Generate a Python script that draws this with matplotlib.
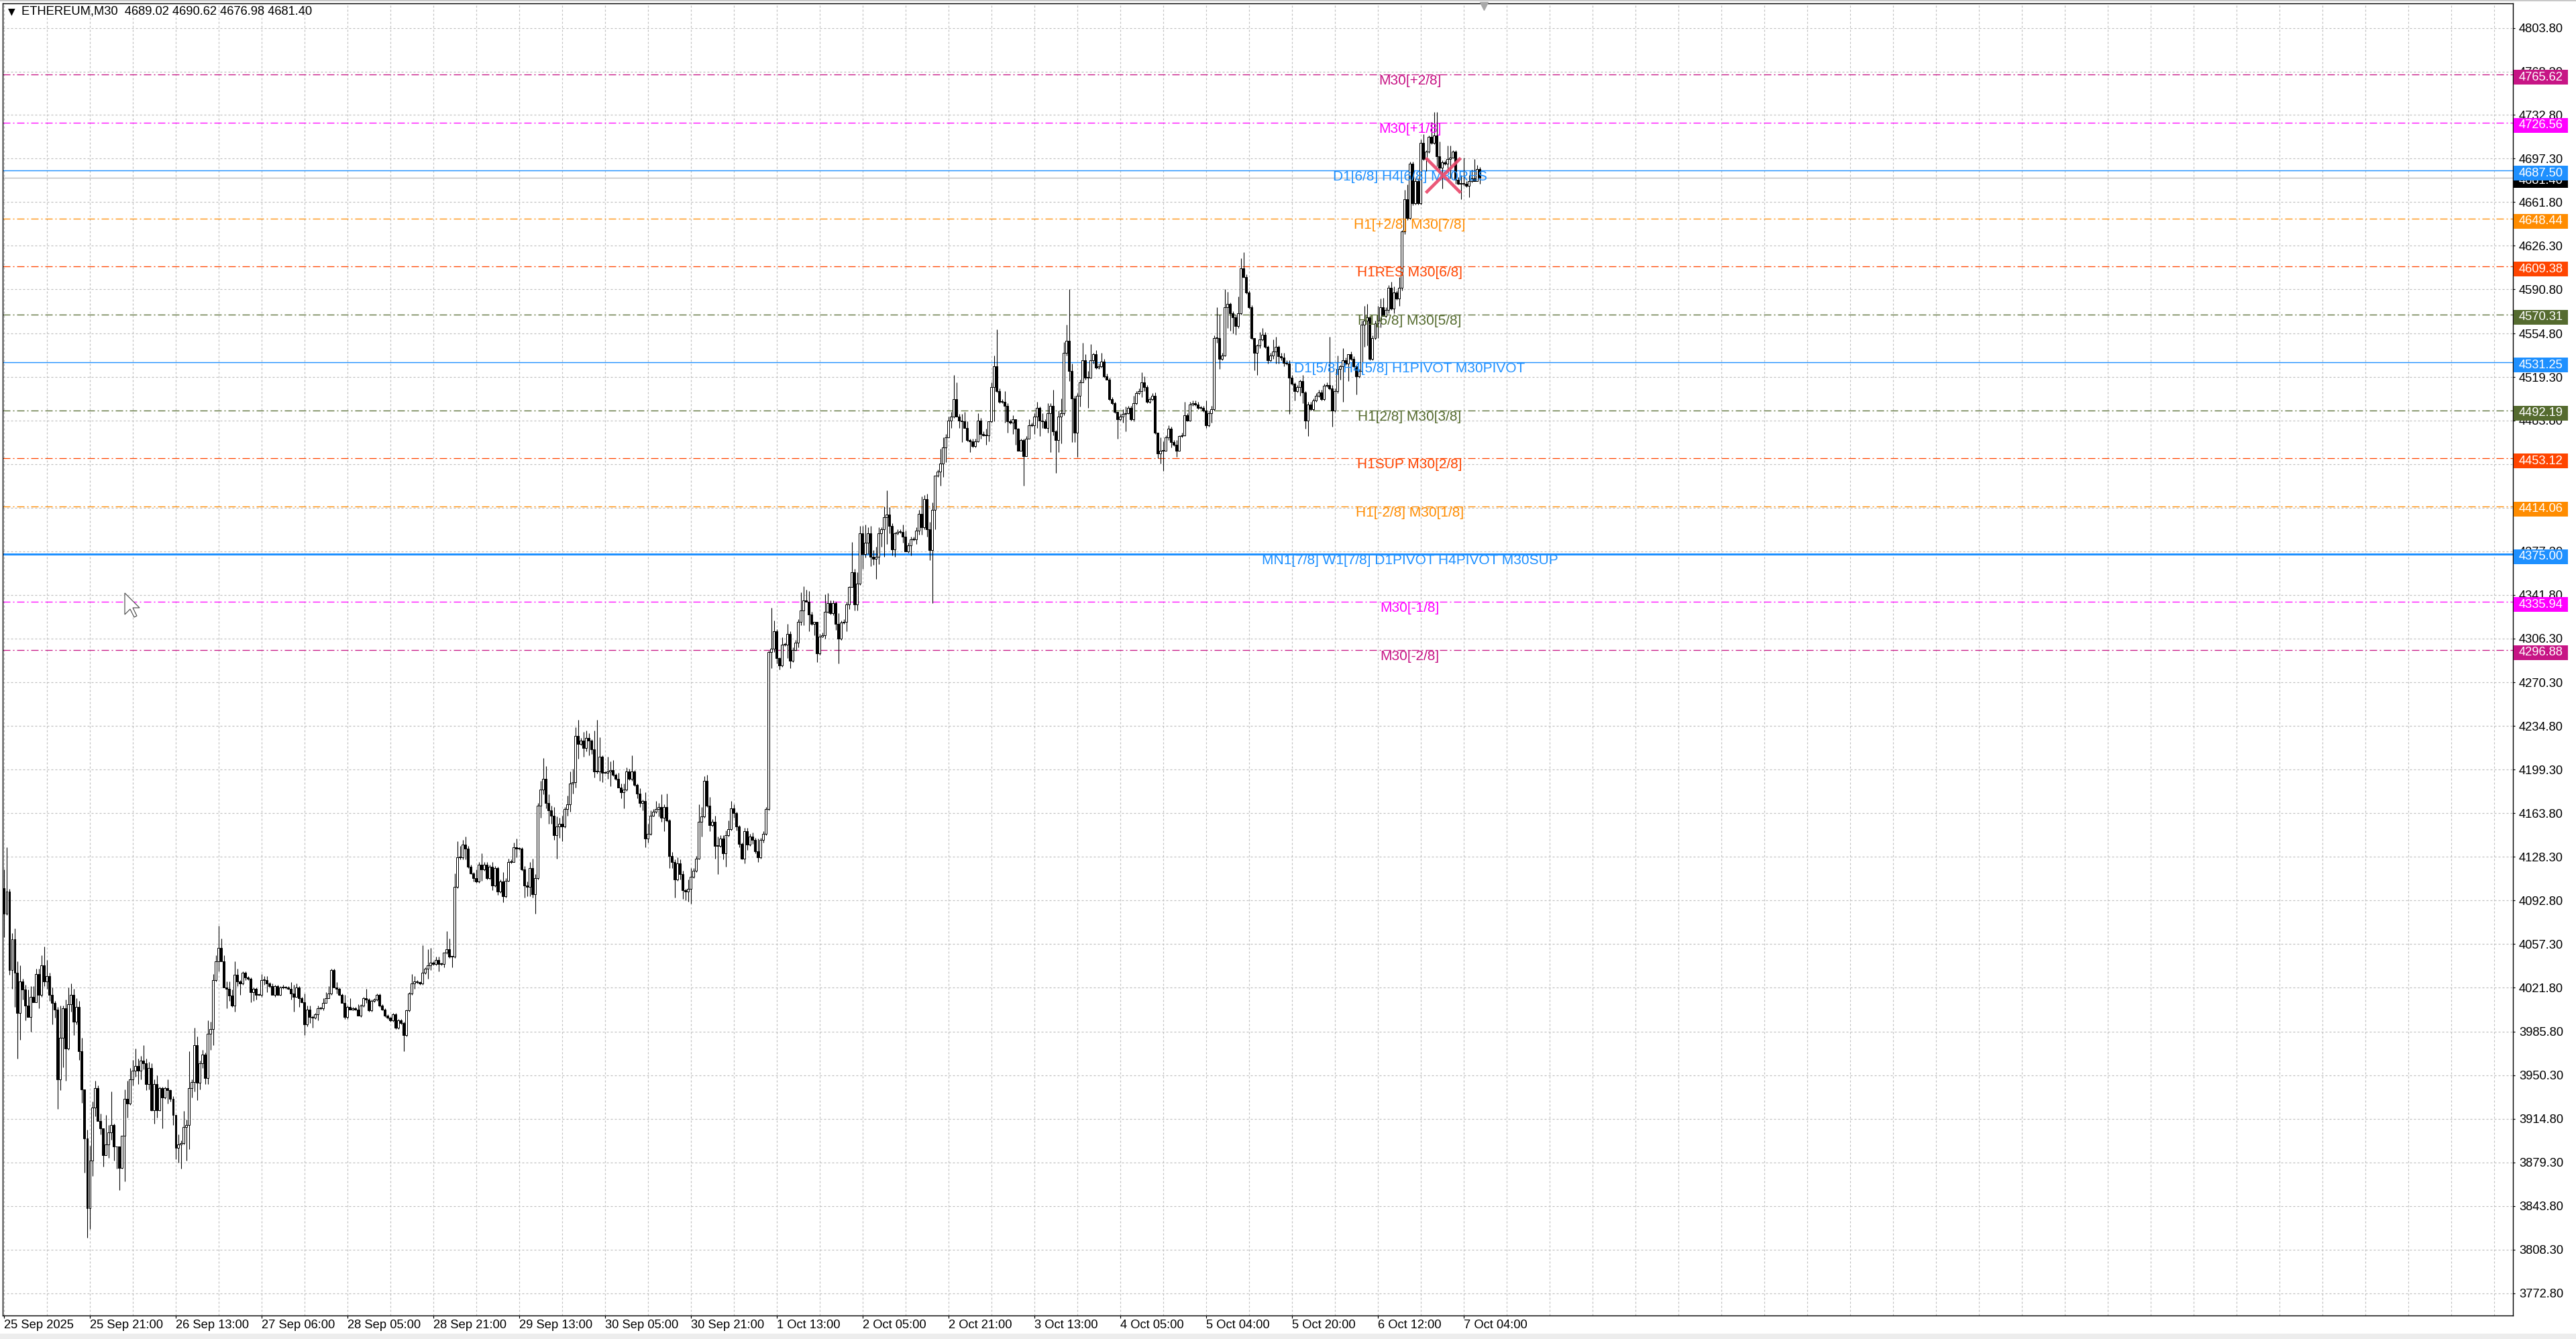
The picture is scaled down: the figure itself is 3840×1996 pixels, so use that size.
import matplotlib
matplotlib.use("Agg")
import matplotlib.pyplot as plt
import matplotlib.transforms as mtransforms
from matplotlib.patches import Rectangle, Polygon

# ---------------- data ----------------
header_text = "ETHEREUM,M30  4689.02 4690.62 4676.98 4681.40"
first_open = 4103.0
closes = [
 4082,4100,4036,4061,4034,4001,4027,4020,4007,3998,
 4014,4010,4033,4016,4040,4027,4031,4016,4009,4004,
 3947,3981,4005,3972,4008,4016,3994,4006,3970,3939,
 3899,3842,3881,3924,3940,3913,3907,3885,3894,3904,
 3910,3892,3892,3875,3901,3931,3927,3947,3954,3958,
 3954,3962,3960,3943,3956,3922,3943,3922,3940,3932,
 3940,3938,3931,3918,3891,3894,3895,3908,3910,3940,
 3945,3975,3944,3960,3967,3948,3984,3988,4028,4043,
 4054,4043,4022,4021,4015,4007,4032,4027,4025,4034,
 4030,4029,4018,4021,4016,4016,4028,4028,4025,4023,
 4016,4023,4016,4022,4022,4022,4021,4017,4014,4022,
 4013,4010,3992,4004,3998,3997,4000,4005,4005,4009,
 4013,4017,4036,4022,4021,4016,4009,3998,4006,4004,
 4005,4004,3999,4007,4013,4012,4003,4011,4012,4016,
 4007,4004,3999,3997,3995,4000,3989,3995,3993,3983,
 4003,4017,4025,4027,4026,4025,4034,4037,4040,4042,
 4041,4044,4041,4041,4050,4053,4047,4047,4104,4128,
 4128,4138,4135,4120,4115,4111,4108,4122,4118,4122,
 4111,4120,4105,4119,4100,4108,4096,4109,4124,4124,
 4136,4135,4135,4118,4105,4104,4119,4098,4111,4170,
 4183,4192,4172,4166,4162,4146,4153,4155,4153,4167,
 4171,4188,4189,4227,4220,4223,4217,4225,4223,4216,
 4198,4198,4210,4197,4197,4198,4199,4195,4192,4185,
 4181,4183,4198,4192,4198,4187,4180,4172,4174,4143,
 4147,4162,4165,4167,4169,4160,4169,4158,4129,4124,
 4110,4123,4114,4101,4100,4102,4112,4117,4127,4157,
 4161,4190,4170,4154,4157,4137,4137,4143,4131,4146,
 4151,4168,4164,4153,4139,4127,4149,4138,4145,4142,
 4133,4128,4142,4147,4167,4295,4298,4312,4290,4284,
 4301,4301,4310,4288,4297,4303,4320,4329,4337,4336,
 4326,4318,4320,4294,4308,4309,4328,4335,4327,4335,
 4318,4306,4319,4320,4334,4348,4360,4334,4351,4392,
 4375,4384,4392,4373,4371,4373,4392,4395,4405,4407,
 4398,4379,4392,4393,4393,4389,4377,4382,4387,4387,
 4394,4408,4397,4420,4395,4378,4411,4439,4442,4449,
 4462,4470,4484,4487,4501,4487,4484,4483,4478,4468,
 4467,4463,4467,4484,4473,4472,4472,4483,4511,4528,
 4508,4499,4499,4496,4483,4482,4485,4477,4459,4468,
 4455,4469,4480,4480,4487,4494,4484,4483,4478,4490,
 4496,4475,4468,4487,4490,4539,4549,4524,4502,4474,
 4504,4515,4533,4519,4519,4533,4538,4527,4528,4532,
 4520,4517,4501,4498,4491,4485,4487,4489,4490,4494,
 4485,4498,4506,4508,4515,4511,4499,4501,4504,4474,
 4457,4459,4459,4470,4477,4466,4464,4459,4471,4472,
 4488,4484,4497,4498,4497,4494,4494,4492,4480,4490,
 4493,4551,4551,4534,4537,4576,4579,4571,4568,4561,
 4571,4608,4601,4588,4576,4551,4539,4545,4550,4554,
 4544,4533,4537,4540,4544,4536,4535,4531,4530,4519,
 4514,4508,4511,4516,4507,4484,4497,4493,4500,4504,
 4507,4501,4512,4513,4510,4492,4508,4526,4528,4533,
 4530,4538,4534,4528,4520,4524,4562,4565,4568,4534,
 4551,4563,4565,4576,4569,4574,4592,4575,4588,4583,
 4592,4638,4664,4649,4693,4661,4679,4661,4710,4697,
 4703,4715,4710,4716,4699,4690,4694,4693,4697,4698,
 4703,4680,4677,4677,4677,4675,4679,4681,4679,4689.02,
 4681.40,
]
upper_wicks = [
 15,36,2,5,9,9,13,2,4,13,
 9,9,4,4,8,15,13,3,6,2,
 2,26,2,7,14,9,5,7,5,11,
 0,7,12,5,6,2,6,0,24,6,
 27,1,0,0,0,8,15,9,9,14,
 6,4,13,4,5,4,4,7,1,1,
 1,7,1,2,0,8,2,13,4,30,
 2,14,7,2,4,2,11,6,5,5,
 18,8,5,5,6,5,11,5,1,1,
 1,1,1,1,1,1,5,3,3,1,
 2,1,1,1,2,1,1,5,7,3,
 1,1,7,3,3,1,1,2,1,4,
 5,6,1,1,4,1,1,7,1,7,
 1,1,4,1,1,8,1,1,1,1,
 1,1,1,1,1,1,1,1,1,1,
 1,1,8,4,1,1,22,1,13,12,
 1,3,3,1,0,15,9,0,11,13,
 9,4,7,2,2,1,7,2,9,2,
 2,2,4,2,1,2,8,2,3,2,
 4,7,1,1,3,3,5,8,3,2,
 7,17,10,7,4,7,8,5,7,2,
 7,10,11,7,13,2,7,6,4,1,
 15,42,16,1,1,12,7,8,1,5,
 3,5,3,2,13,1,1,4,1,7,
 8,4,2,7,3,10,2,11,1,3,
 2,5,3,3,1,8,7,2,2,14,
 8,4,5,7,2,5,8,3,3,4,
 7,6,3,1,1,1,3,3,2,3,
 2,10,2,2,2,1,33,9,2,1,
 6,2,8,2,2,2,2,15,12,9,
 9,2,0,0,2,2,14,8,2,2,
 1,9,2,2,2,1,25,3,9,6,
 6,15,5,6,5,8,5,2,9,20,
 6,2,1,2,2,6,5,2,2,2,
 3,3,14,3,4,6,6,0,2,12,
 8,3,3,4,20,14,2,5,8,5,
 1,2,2,6,2,2,5,0,4,9,
 30,2,2,9,2,2,3,0,1,1,
 1,2,5,2,3,5,1,6,2,8,
 2,13,1,5,12,9,13,42,6,2,
 2,2,14,5,5,13,1,3,2,7,
 2,2,2,2,1,0,2,4,5,2,
 2,6,2,2,8,5,2,2,2,3,
 0,11,8,2,3,2,2,4,1,2,
 11,2,2,2,2,2,2,2,8,2,
 3,2,25,19,2,15,10,1,2,2,
 14,8,13,2,2,2,0,1,6,5,
 2,1,2,10,8,1,3,4,2,3,
 2,1,2,1,5,1,2,2,2,2,
 2,2,2,2,39,3,2,11,1,10,
 2,0,2,2,1,2,3,12,11,1,
 2,2,12,7,8,2,2,5,5,2,
 9,1,8,12,2,2,2,2,3,7,
 1,1,12,19,19,12,2,2,11,10,
 1,1,2,7,21,2,5,7,16,3,
 1.60,
]
lower_wicks = [
 19,1,4,15,28,37,22,8,12,0,
 12,0,0,11,2,4,6,5,17,7,
 24,9,24,26,1,6,11,2,7,11,
 28,24,17,13,7,0,5,9,0,11,
 6,11,18,18,1,37,11,1,5,5,
 11,7,5,5,4,1,11,6,1,25,
 1,11,2,8,9,12,20,1,27,20,
 8,8,14,5,4,5,5,13,13,1,
 8,0,0,16,4,1,5,4,9,1,
 2,1,8,7,4,1,2,4,7,1,
 0,2,1,1,1,1,1,5,12,0,
 7,1,9,2,5,8,1,5,1,2,
 0,0,1,0,4,1,0,2,2,0,
 1,1,0,1,1,3,1,1,1,1,
 1,1,1,1,1,1,1,1,1,13,
 1,1,1,4,1,1,1,1,8,4,
 1,1,6,1,3,1,1,9,1,1,
 2,2,9,1,1,3,1,1,9,1,
 1,1,4,1,3,1,5,1,1,1,
 0,7,1,1,10,8,8,3,16,1,
 10,4,4,11,7,4,19,9,12,1,
 5,6,8,4,12,1,7,3,12,4,
 5,2,8,8,1,5,12,1,1,0,
 5,13,1,1,2,1,4,3,6,7,
 3,1,1,1,6,3,11,1,10,5,
 15,1,4,7,7,8,12,1,1,1,
 12,1,1,5,1,10,23,1,5,11,
 1,1,4,3,3,1,4,4,1,3,
 2,4,1,2,1,1,13,3,4,3,
 1,1,11,6,1,1,4,3,12,0,
 14,1,9,7,1,1,3,1,1,2,
 5,20,1,1,8,4,0,5,5,1,
 12,3,9,8,5,16,6,11,22,22,
 6,5,6,1,1,5,0,1,8,1,
 4,3,6,2,6,8,43,16,1,11,
 11,12,0,6,1,0,6,17,0,1,
 9,1,1,1,4,1,8,5,1,28,
 1,1,1,14,9,1,9,13,0,0,
 24,0,0,1,7,9,13,5,1,4,
 32,3,27,10,22,2,2,8,36,8,
 20,9,0,2,25,1,3,1,1,1,
 1,0,1,1,1,16,1,5,14,1,
 1,2,1,1,5,3,1,1,1,1,
 4,8,16,0,2,4,1,5,0,1,
 1,1,1,1,1,1,1,1,2,1,
 8,1,4,8,1,1,17,14,13,7,
 2,1,1,1,1,1,14,18,2,1,
 1,3,1,3,10,6,2,3,1,30,
 1,8,1,7,9,7,13,1,1,1,
 1,1,1,1,1,13,1,2,9,29,
 1,14,1,1,15,1,1,18,20,1,
 1,1,12,5,0,1,3,1,4,1,
 6,2,2,2,1,2,1,1,1,1,
 10,1,1,1,8,2,17,1,5,16,
 0,3,1,13,2,1,9,1,0,0,
 4.42,
]

time_labels = ["25 Sep 2025", "25 Sep 21:00", "26 Sep 13:00", "27 Sep 06:00",
               "28 Sep 05:00", "28 Sep 21:00", "29 Sep 13:00", "30 Sep 05:00",
               "30 Sep 21:00", "1 Oct 13:00", "2 Oct 05:00", "2 Oct 21:00",
               "3 Oct 13:00", "4 Oct 05:00", "5 Oct 04:00", "5 Oct 20:00",
               "6 Oct 12:00", "7 Oct 04:00"]
price_ticks = [4803.80, 4768.30, 4732.80, 4697.30, 4661.80, 4626.30, 4590.80,
               4554.80, 4519.30, 4483.80, 4448.30, 4412.80, 4377.30, 4341.80,
               4306.30, 4270.30, 4234.80, 4199.30, 4163.80, 4128.30, 4092.80,
               4057.30, 4021.80, 3985.80, 3950.30, 3914.80, 3879.30, 3843.80,
               3808.30, 3772.80]

level_values = [4765.62, 4726.56, 4687.50, 4648.44, 4609.38, 4570.31, 4531.25,
                4492.19, 4453.12, 4414.06, 4375.00, 4335.94, 4296.88]
level_names = ["M30[+2/8]", "M30[+1/8]", "D1[6/8] H4[6/8] M30RES",
               "H1[+2/8] M30[7/8]", "H1RES M30[6/8]", "H1[6/8] M30[5/8]",
               "D1[5/8] H4[5/8] H1PIVOT M30PIVOT", "H1[2/8] M30[3/8]",
               "H1SUP M30[2/8]", "H1[-2/8] M30[1/8]",
               "MN1[7/8] W1[7/8] D1PIVOT H4PIVOT M30SUP", "M30[-1/8]", "M30[-2/8]"]
level_colors = ["#C71585", "#FF00FF", "#1E90FF", "#FF8C00", "#FF4500", "#556B2F",
                "#1E90FF", "#556B2F", "#FF4500", "#FF8C00", "#1E90FF", "#FF00FF", "#C71585"]
bid_price = 4681.40

# ---------------- layout ----------------
W, H, DPI = 3840, 1996, 100
PT = 72.0 / DPI  # points per pixel
plt.rcParams['lines.scale_dashes'] = False
UIFONT = ['Liberation Sans', 'DejaVu Sans']
AX_FS = 13.2

fig = plt.figure(figsize=(W / DPI, H / DPI), dpi=DPI, facecolor='white')
ax_l, ax_r, ax_t, ax_b = 4, 3746, 5, 1961
ax = fig.add_axes([ax_l / W, 1 - ax_b / H, (ax_r - ax_l) / W, (ax_b - ax_t) / H])
ax.set_facecolor('white')
x_min, x_max = -0.4, 935.1
y_min, y_max = 3754.5, 4823.8
ax.set_xlim(x_min, x_max)
ax.set_ylim(y_min, y_max)

# grid
grid_kw = dict(color='#C0C0C0', lw=1.2 * PT, ls=(0, (3 * PT, 3 * PT)), zorder=1)
for v in price_ticks:
    ax.axhline(v, **grid_kw)
for gx in range(0, int(x_max) + 1, 16):
    ax.axvline(gx, **grid_kw)

# level lines
for v, c in zip(level_values, level_colors):
    if c == "#1E90FF":
        lw = 3.0 if abs(v - 4375.0) < 0.01 else 1.4
        ax.axhline(v, color=c, lw=lw * PT, zorder=2)
    else:
        ax.axhline(v, color=c, lw=1.3 * PT,
                   ls=(0, (11 * PT, 4 * PT, 2 * PT, 4 * PT)), zorder=2)
ax.axhline(bid_price, color='#BDBDBD', lw=1.4 * PT, zorder=2)

# candles
n = len(closes)
opens = [first_open] + closes[:-1]
xs = list(range(n))
highs = [max(o, c) + u for o, c, u in zip(opens, closes, upper_wicks)]
lows = [min(o, c) - l for o, c, l in zip(opens, closes, lower_wicks)]
ax.vlines(xs, lows, highs, color='black', lw=1.1 * PT, zorder=4)
bottoms = [min(o, c) for o, c in zip(opens, closes)]
heights = [max(abs(c - o), 0.5) for o, c in zip(opens, closes)]
fills = ['white' if c >= o else 'black' for o, c in zip(opens, closes)]
ax.bar(xs, heights, bottom=bottoms, width=0.55, color=fills, edgecolor='black',
       linewidth=1.0 * PT, zorder=5)

# level texts
label_center_bar = 524
for v, name, c in zip(level_values, level_names, level_colors):
    ax.text(label_center_bar, v, name, color=c, ha='center', va='top',
            fontsize=15, family=UIFONT, zorder=7)

# cross marker
cross_bar, cross_price = 536.3, 4683.8
ax.plot([cross_bar], [cross_price], marker='x', ms=38, mew=3.4, color='#EA4A6C',
        alpha=0.92, zorder=8)

# shift triangle
ax.plot([551.5], [1 - 4 / (ax_b - ax_t)], marker='v', ms=9, color='#A8A8A8',
        transform=mtransforms.blended_transform_factory(ax.transData, ax.transAxes),
        clip_on=False, zorder=9)

# axes styling
for s in ax.spines.values():
    s.set_color('black')
    s.set_linewidth(1.4 * PT)
ax.yaxis.tick_right()
ax.set_yticks(price_ticks)
ax.set_yticklabels([f"{v:.2f}" for v in price_ticks])
ax.tick_params(axis='y', which='both', length=3 * PT, width=1.2 * PT, pad=6 * PT,
               labelsize=AX_FS, colors='black')
tick_bars = [32 * k for k in range(len(time_labels))]
ax.set_xticks(tick_bars)
ax.set_xticklabels(time_labels)
ax.tick_params(axis='x', which='both', length=4 * PT, width=1.2 * PT, pad=1.6 * PT,
               labelsize=AX_FS, colors='black')
for lbl in ax.get_xticklabels():
    lbl.set_ha('left')
    lbl.set_fontfamily(UIFONT)
for lbl in ax.get_yticklabels():
    lbl.set_fontfamily(UIFONT)

# right-side price boxes
bt = mtransforms.blended_transform_factory(ax.transAxes, ax.transData)
ppx = (y_max - y_min) / (ax_b - ax_t)  # price per pixel
box_w = 81 / (ax_r - ax_l)
box_h = 22 * ppx
txt_dx = 9 / (ax_r - ax_l)
def price_box(v, color, z):
    yc = v - 4 * ppx
    ax.add_patch(Rectangle((1.0 + 1 / (ax_r - ax_l), yc - box_h / 2), box_w, box_h,
                           transform=bt, facecolor=color, edgecolor='none',
                           clip_on=False, zorder=z))
    ax.text(1.0 + txt_dx, yc, f"{v:.2f}", transform=bt, color='white', va='center',
            ha='left', fontsize=AX_FS, family=UIFONT, clip_on=False, zorder=z + 0.5)
price_box(bid_price, 'black', 10)
for v, c in zip(level_values, level_colors):
    price_box(v, c, 11)

# header
fig.text(12 / W, 1 - 17 / H, "\u25BC", fontsize=10, family=['DejaVu Sans'],
         va='center', ha='left', color='black')
fig.text(32 / W, 1 - 17 / H, header_text, fontsize=AX_FS, family=UIFONT,
         va='center', ha='left', color='black')

# mouse cursor (arrow) in pixel units
cur_x, cur_y, cur_s = 186, 884, 2.0
cursor_shape = [(0, 0), (0, 16), (4, 12), (7, 18), (9, 17), (6, 11), (11, 11)]
cursor_pts = [((cur_x + px * cur_s) / W, 1 - (cur_y + py * cur_s) / H)
              for px, py in cursor_shape]
fig.patches.append(Polygon(cursor_pts, closed=True, transform=fig.transFigure,
                           facecolor='white', edgecolor='#505050', lw=1.2 * PT,
                           zorder=20))

# window frame bits
fig.patches.append(Rectangle((0, 0), 1, 8 / H, transform=fig.transFigure,
                             facecolor='#EDEDED', edgecolor='none', zorder=0))
fig.patches.append(Rectangle((0, 1 - 2 / H), 1, 2 / H, transform=fig.transFigure,
                             facecolor='#C8C8C8', edgecolor='none', zorder=0))

fig.savefig("out.png", dpi=DPI, facecolor='white')
